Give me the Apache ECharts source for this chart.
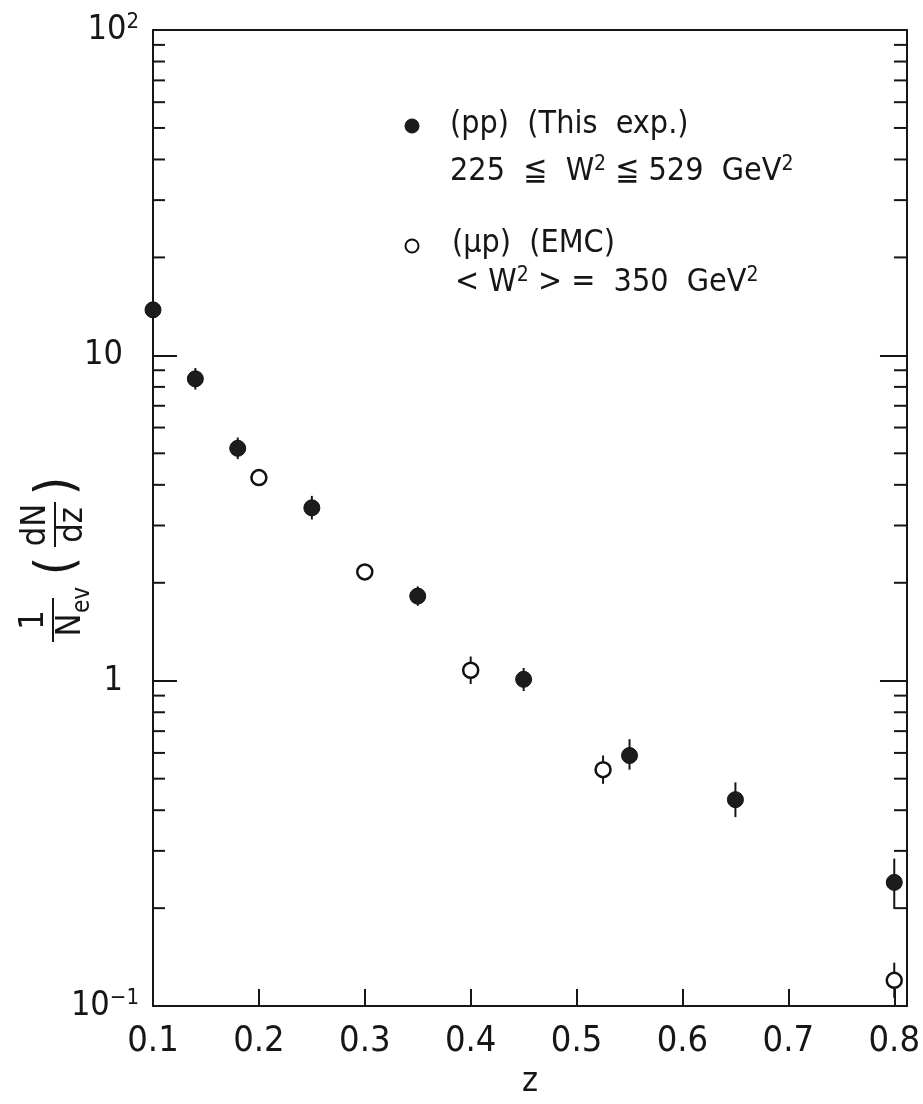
<!DOCTYPE html>
<html>
<head>
<meta charset="utf-8">
<script src="https://cdn.jsdelivr.net/npm/echarts@6/dist/echarts.min.js"></script>
<style>html,body{margin:0;padding:0;background:#fff}#c{width:923px;height:1104px}</style>
</head>
<body>
<div id="c"></div>
<script>
// ---- data ----
const zPP  = [0.1, 0.14, 0.18, 0.25, 0.35, 0.45, 0.55, 0.65, 0.8];
const vPP  = [13.8, 8.47, 5.18, 3.40, 1.82, 1.01, 0.589, 0.431, 0.240];
const loPP = [12.6, 7.85, 4.80, 3.13, 1.70, 0.93, 0.533, 0.381, 0.199];
const hiPP = [15.1, 9.14, 5.59, 3.70, 1.95, 1.095, 0.661, 0.487, 0.284];
const zMU  = [0.2, 0.3, 0.4, 0.525, 0.8];
const vMU  = [4.21, 2.16, 1.077, 0.533, 0.120];
const loMU = [4.05, 2.08, 0.977, 0.482, 0.106];
const hiMU = [4.38, 2.25, 1.187, 0.589, 0.136];
const xTickLabels = ['0.1','0.2','0.3','0.4','0.5','0.6','0.7','0.8'];
const yMajorTicks = [0.1, 1, 10, 100];
const yMinorTicks = [0.2,0.3,0.4,0.5,0.6,0.7,0.8,0.9,2,3,4,5,6,7,8,9,20,30,40,50,60,70,80,90];
const X_MIN = 0.1, X_MAX = 0.812, Y_MIN = 0.1, Y_MAX = 100;

const FONT = "'Liberation Sans Narrow','DejaVu Sans Condensed','Liberation Sans',sans-serif";
const INK = '#161616';

const chart = echarts.init(document.getElementById('c'), null, {renderer:'canvas'});

function errItem(params, api) {
  const x = api.value(0), lo = api.value(1), hi = api.value(2);
  const p1 = api.coord([x, lo]), p2 = api.coord([x, hi]);
  return {type:'line', shape:{x1:p1[0], y1:p1[1], x2:p2[0], y2:p2[1]}, style:{stroke:INK, lineWidth:2}};
}
function minorTickItem(params, api) {
  const v = api.value(1);
  const a = api.coord([X_MIN, v]), b = api.coord([X_MAX, v]);
  return {type:'group', children:[
    {type:'line', shape:{x1:a[0], y1:a[1], x2:a[0]+12, y2:a[1]}, style:{stroke:INK, lineWidth:2}},
    {type:'line', shape:{x1:b[0], y1:b[1], x2:b[0]-13, y2:b[1]}, style:{stroke:INK, lineWidth:2}}
  ]};
}

const supMap = {'-1':'{b|10}{s|−1}', '2':'{b|10}{s|2}', '1':'{b|10}{ph| }', '0':'{b|1}{ph| }'};

const option = {
  backgroundColor:'#fff',
  animation:false,
  grid:{left:153, right:11, top:30, bottom:74, show:false},
  xAxis:[{
    type:'value', min:X_MIN, max:X_MAX, interval:0.1, position:'bottom',
    name:'z', nameLocation:'middle', nameGap:48,
    nameTextStyle:{fontFamily:FONT, fontSize:34, color:INK},
    axisLine:{show:true, lineStyle:{color:INK, width:2}},
    axisTick:{show:true, inside:true, length:17, lineStyle:{color:INK, width:2}},
    axisLabel:{show:true, margin:18, fontFamily:FONT, fontSize:36, color:INK, showMaxLabel:false,
      formatter:function(v){ const i = Math.round((v-0.1)*10); return (Math.abs(v-0.1-i*0.1)<1e-6 && xTickLabels[i]) ? xTickLabels[i] : ''; }},
    splitLine:{show:false}
  },{
    type:'value', min:X_MIN, max:X_MAX, position:'top',
    axisLine:{show:true, lineStyle:{color:INK, width:2}},
    axisTick:{show:false}, axisLabel:{show:false}, splitLine:{show:false}
  }],
  yAxis:[{
    type:'log', logBase:10, min:Y_MIN, max:Y_MAX, position:'left',
    axisLine:{show:true, lineStyle:{color:INK, width:2}},
    axisTick:{show:true, inside:true, length:24, lineStyle:{color:INK, width:2}},
    axisLabel:{show:true, margin:14, color:INK,
      formatter:function(v){ return supMap[String(Math.round(Math.log10(v)))]; },
      rich:{
        b:{fontFamily:FONT, fontSize:34, color:INK},
        s:{fontFamily:FONT, fontSize:22, color:INK, verticalAlign:'top', padding:[0,0,16,0]},
        ph:{fontFamily:FONT, fontSize:22, width:16}
      }},
    splitLine:{show:false}
  },{
    type:'log', logBase:10, min:Y_MIN, max:Y_MAX, position:'right',
    axisLine:{show:true, lineStyle:{color:INK, width:2}},
    axisTick:{show:true, inside:true, length:27, lineStyle:{color:INK, width:2}},
    axisLabel:{show:false}, splitLine:{show:false}
  }],
  series:[
    {type:'custom', name:'minorTicks', renderItem:minorTickItem, clip:false, silent:true,
      data:yMinorTicks.map(v=>[X_MIN, v]), encode:{x:0, y:1}, z:1},
    {type:'custom', name:'errPP', renderItem:errItem, clip:false, silent:true,
      data:zPP.map((z,i)=>[z, loPP[i], hiPP[i]]), encode:{x:0, y:[1,2]}, z:2},
    {type:'custom', name:'errMU', renderItem:errItem, clip:false, silent:true,
      data:zMU.map((z,i)=>[z, loMU[i], hiMU[i]]), encode:{x:0, y:[1,2]}, z:2},
    {type:'scatter', name:'(pp) (This exp.)', clip:false, symbol:'circle', symbolSize:16,
      itemStyle:{color:'#1c1c1c', borderColor:'#111', borderWidth:1, opacity:1},
      data:zPP.map((z,i)=>[z, vPP[i]]), z:5},
    {type:'scatter', name:'(µp) (EMC)', clip:false, symbol:'circle', symbolSize:15,
      itemStyle:{color:'#fff', borderColor:'#111', borderWidth:2.5, opacity:1},
      data:zMU.map((z,i)=>[z, vMU[i]]), z:5}
  ],
  graphic:[
    // legend
    {type:'circle', shape:{cx:412, cy:126, r:7}, style:{fill:'#1c1c1c', stroke:'#111', lineWidth:1}},
    {type:'text', x:450, y:125, style:{text:'(pp)  (This  exp.)', font:'32px '+FONT, fill:INK, textVerticalAlign:'middle'}},
    {type:'text', x:450, y:172, style:{text:'{t|225  ≦  W}{s|2}{t| ≦ 529  GeV}{s|2}', fill:INK, textVerticalAlign:'middle',
      rich:{t:{fontFamily:FONT, fontSize:32, fill:INK}, s:{fontFamily:FONT, fontSize:21, fill:INK, verticalAlign:'top', padding:[0,0,14,0]}}}},
    {type:'circle', shape:{cx:412, cy:246, r:6.5}, style:{fill:'#fff', stroke:'#111', lineWidth:2}},
    {type:'text', x:452, y:244, style:{text:'(µp)  (EMC)', font:'32px '+FONT, fill:INK, textVerticalAlign:'middle'}},
    {type:'text', x:455, y:283, style:{text:'{t|< W}{s|2}{t| > =  350  GeV}{s|2}', fill:INK, textVerticalAlign:'middle',
      rich:{t:{fontFamily:FONT, fontSize:32, fill:INK}, s:{fontFamily:FONT, fontSize:21, fill:INK, verticalAlign:'top', padding:[0,0,14,0]}}}},
    // y-axis title, rotated
    {type:'group', x:53, y:642, rotation:Math.PI/2, children:[
      {type:'text', x:22, y:-19, style:{text:'1', font:'34px '+FONT, fill:INK, textAlign:'center', textVerticalAlign:'middle'}},
      {type:'line', shape:{x1:0, y1:0, x2:44, y2:0}, style:{stroke:INK, lineWidth:2}},
      {type:'text', x:17, y:18, style:{text:'N', font:'34px '+FONT, fill:INK, textAlign:'center', textVerticalAlign:'middle'}},
      {type:'text', x:29, y:30, style:{text:'ev', font:'24px '+FONT, fill:INK, textAlign:'left', textVerticalAlign:'middle'}},
      {type:'text', x:76, y:6, style:{text:'(', font:'54px '+FONT, fill:INK, textAlign:'center', textVerticalAlign:'middle'}},
      {type:'line', shape:{x1:95, y1:2, x2:140, y2:2}, style:{stroke:INK, lineWidth:2}},
      {type:'text', x:117, y:-17, style:{text:'dN', font:'34px '+FONT, fill:INK, textAlign:'center', textVerticalAlign:'middle'}},
      {type:'text', x:117, y:20, style:{text:'dz', font:'34px '+FONT, fill:INK, textAlign:'center', textVerticalAlign:'middle'}},
      {type:'text', x:156, y:6, style:{text:')', font:'54px '+FONT, fill:INK, textAlign:'center', textVerticalAlign:'middle'}}
    ]}
  ]
};
chart.setOption(option);
</script>
</body>
</html>
